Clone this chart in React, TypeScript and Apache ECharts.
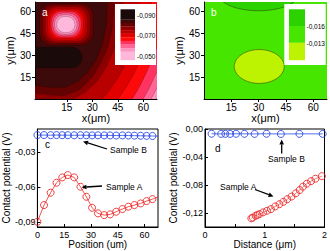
import React, { useEffect, useRef } from 'react';
import * as echarts from 'echarts';

const FONT = '"Liberation Sans", Arial, Helvetica, sans-serif';

// ---------- Panel a: contour map (V) ----------
const A_LEVEL_COLORS = ['#1a0a0a', '#3c0a0a', '#640202', '#8e0000', '#b80000', '#e00000', '#ff0a0a', '#ff3360', '#ff6696', '#ff94c0', '#ffb8dc'];
const A_LEGEND_LABELS = ['-0,090', '-0,070', '-0,050'];
const MAP_TICKS = [15, 30, 45, 60];
// contours toward the lower-right corner; level of the region beyond each contour
const A_BAND_LEVELS = [2, 3, 4, 5, 6, 7, 8, 9, 10];
const A_BANDS = [
  [[-8, 10], [5.1, 8], [13.9, 8], [21.6, 12.1], [27.5, 18.9], [32.2, 27.1], [35.7, 37.3], [38.1, 50.9], [39.2, 75]],
  [[-8, 4.6], [8.1, 2.5], [13.9, 2.5], [22.8, 6.6], [29.8, 14.8], [34.5, 23.7], [38.6, 33.9], [41.6, 47.5], [43.3, 75]],
  [[17, -3], [18.6, 0], [25.7, 4.6], [32.8, 12.1], [38.1, 21.6], [42.2, 32.5], [45.1, 44.1], [47.5, 57.7], [48.6, 75]],
  [[34.5, -3], [35.7, 0], [40.4, 6.6], [45.1, 14.8], [49.2, 23.7], [52.8, 33.9], [55.7, 46.1], [58.1, 75]],
  [[44, -3], [45.1, 0], [49.8, 8], [53.9, 16.2], [56.9, 23.7], [60.4, 33.9], [63.4, 47.5], [65.1, 75]],
  [[52.5, -3], [53.4, 0], [57.5, 8], [61, 16.2], [63.9, 23.7], [66.9, 32.5], [69.8, 40.7], [75, 50]],
  [[59, -3], [59.8, 0], [63.4, 7.3], [66.3, 14.8], [69.8, 22.3], [75, 30]],
  [[64, -3], [64.5, 0], [66.9, 5.2], [69.8, 10.7], [75, 18]],
  [[67, -3], [67.5, 0], [69.8, 3.9], [75, 10]],
];
// peak rings [xmin, xmax, ymin, ymax], levels 2..10
const A_RING_LEVELS = [2, 3, 4, 5, 6, 7, 8, 9, 10];
const A_RINGS = [
  [-1.0, 30.6, 37.0, 65.4],
  [0.8, 28.8, 38.2, 64.3],
  [2.3, 27.2, 39.2, 63.2],
  [3.6, 25.8, 40.3, 62.1],
  [4.8, 24.6, 41.4, 61.1],
  [5.8, 23.4, 42.4, 60.1],
  [6.8, 22.2, 43.4, 59.0],
  [7.8, 21.0, 44.4, 57.8],
  [9.0, 19.8, 45.5, 56.6],
];
// low region (level 0)
const A_LOW = [[-20, 24, 21.5, 35.5]];

// ---------- Panel b ----------
const B_LEVEL_COLORS = ['#2bd200', '#46e600', '#bdf200'];
const B_LEGEND_LABELS = ['-0,016', '-0,013'];
// [cx, cy, rx, ry, level]
const B_BLOBS = [
  [30, 72, 22, 11.5, 0],
  [30.3, 22.3, 13.7, 11.6, 2],
];

// ---------- Panel c ----------
const C_X = [0, 3.7, 7.4, 10.7, 13.9, 17.0, 20.6, 24.1, 27.4, 30.6, 33.9, 37.4, 40.7, 44.1, 47.6, 50.9, 54.3, 57.8, 61.1, 64.4, 67.6];
const C_A = [-0.0900, -0.0757, -0.0651, -0.0566, -0.0520, -0.0500, -0.0520, -0.0600, -0.0686, -0.0780, -0.0828, -0.0843, -0.0837, -0.0814, -0.0791, -0.0771, -0.0757, -0.0743, -0.0723, -0.0706, -0.0686];
const C_B = [-0.0157, -0.0157, -0.0158, -0.0157, -0.0158, -0.0158, -0.0159, -0.0158, -0.0159, -0.0160, -0.0159, -0.0160, -0.0160, -0.0161, -0.0160, -0.0161, -0.0162, -0.0163, -0.0164, -0.0165, -0.0166];
const C_Y_TICKS = [-0.09, -0.06, -0.03];
const C_X_TICKS = [0, 15, 30, 45, 60];

// ---------- Panel d ----------
const D_A_X = [0.775, 0.80, 0.848, 0.88, 0.913, 0.972, 1.038, 1.103, 1.175, 1.246, 1.311, 1.377, 1.448, 1.52, 1.585, 1.639, 1.705, 1.775, 1.848, 1.956];
const D_A_Y = [-0.1276, -0.1265, -0.1239, -0.1228, -0.1215, -0.1191, -0.1168, -0.1145, -0.1106, -0.1074, -0.1041, -0.1003, -0.0965, -0.0919, -0.0872, -0.0824, -0.0781, -0.0745, -0.0711, -0.0674];
const D_B_X = [0.11, 0.27, 0.34, 0.42, 0.52, 0.66, 0.83, 1.03, 1.27, 1.58, 1.97];
const D_B_Y = [-0.0068, -0.0070, -0.0069, -0.0070, -0.0068, -0.0069, -0.0070, -0.0068, -0.0071, -0.0069, -0.0070];
const D_Y_TICKS = [-0.12, -0.08, -0.04, 0];

const RED = '#ee2a2a';
const BLUE = '#2a4ae8';

const comma2 = (v: number) => (Math.abs(v) < 1e-9 ? '0,00' : v.toFixed(2).replace('.', ','));

function arrow(x1: number, y1: number, x2: number, y2: number) {
  const ang = Math.atan2(y2 - y1, x2 - x1);
  const L = 5, W = 2.3;
  const bx = x2 - L * Math.cos(ang), by = y2 - L * Math.sin(ang);
  const px = -Math.sin(ang) * W, py = Math.cos(ang) * W;
  return [
    { type: 'line', shape: { x1, y1, x2: bx, y2: by }, style: { stroke: '#000', lineWidth: 1.3 }, silent: true },
    { type: 'polygon', shape: { points: [[x2, y2], [bx + px, by + py], [bx - px, by - py]] }, style: { fill: '#000' }, silent: true },
  ];
}

function txt(x: number, y: number, text: string, size: number, fill = '#000', align = 'left') {
  return { type: 'text', x, y, silent: true, style: { text, fill, font: `${size}px ${FONT}`, align, verticalAlign: 'middle' } };
}

function mapAxisX(gridIndex: number, min: number, max: number) {
  return {
    type: 'value', gridIndex, min, max,
    name: 'x(μm)', nameLocation: 'middle', nameGap: 11,
    nameTextStyle: { fontSize: 11, fontFamily: FONT, color: '#000' },
    axisLine: { show: true, onZero: false, lineStyle: { color: '#000', width: 1 } },
    axisTick: { show: true, inside: false, length: 3, customValues: MAP_TICKS, lineStyle: { color: '#000' } },
    axisLabel: { customValues: MAP_TICKS, fontSize: 10, margin: 3, color: '#000', fontFamily: FONT },
    splitLine: { show: false },
  };
}
function mapAxisY(gridIndex: number, gap: number) {
  return {
    type: 'value', gridIndex, min: 0, max: 66.5,
    name: 'y(μm)', nameLocation: 'middle', nameGap: gap,
    nameTextStyle: { fontSize: 11, fontFamily: FONT, color: '#000' },
    axisLine: { show: true, onZero: false, lineStyle: { color: '#000', width: 1 } },
    axisTick: { show: true, inside: false, length: 3, customValues: MAP_TICKS, lineStyle: { color: '#000' } },
    axisLabel: { customValues: MAP_TICKS, fontSize: 10, margin: 4, color: '#000', fontFamily: FONT },
    splitLine: { show: false },
  };
}

export default function App() {
  const ref = useRef<HTMLDivElement>(null);
  useEffect(() => {
    if (!ref.current) return;
    const chart = echarts.init(ref.current, null, { renderer: 'svg', width: 330, height: 251 });

    const lineStroke = { stroke: 'rgba(0,0,0,0.45)', lineWidth: 0.45 };

    // legend a
    const aBar: any[] = [];
    const barTop = 9.3, barX = 120.5, barW = 14.5;
    const heights = [10, 3.6, 3.6, 3.6, 3.6, 3.6, 3.6, 3.6, 3.6, 3.6, 8.3];
    let yy = barTop;
    A_LEVEL_COLORS.forEach((c, i) => {
      aBar.push({ type: 'rect', shape: { x: barX, y: yy, width: barW, height: heights[i] + 0.2 }, style: { fill: c }, silent: true });
      yy += heights[i];
    });
    const aLabY = [15, 35, 56];

    const bBar: any[] = [];
    const bH = [16.7, 16.7, 17.3];
    let yb = 9.3;
    B_LEVEL_COLORS.forEach((c, i) => {
      bBar.push({ type: 'rect', shape: { x: 289, y: yb, width: 16, height: bH[i] + 0.2 }, style: { fill: c }, silent: true });
      yb += bH[i];
    });

    const graphics: any[] = [
      { type: 'rect', shape: { x: 115, y: 4, width: 41, height: 61 }, style: { fill: '#fff' }, silent: true, z: 50 },
      ...aBar.map((e) => ({ ...e, z: 51 })),
      ...A_LEGEND_LABELS.map((t, i) => ({ ...txt(137, aLabY[i], t, 6.5), z: 52 })),
      { type: 'rect', shape: { x: 284.3, y: 4, width: 41.4, height: 61 }, style: { fill: '#fff' }, silent: true, z: 50 },
      ...bBar.map((e) => ({ ...e, z: 51 })),
      ...B_LEGEND_LABELS.map((t, i) => ({ ...txt(306.5, [26.7, 43.3][i], t, 6.5), z: 52 })),
      { ...txt(42, 12, 'a', 10, '#fff'), z: 52 },
      { ...txt(211, 12.5, 'b', 10, '#fff'), z: 52 },
      { ...txt(45, 144, 'c', 10), z: 52 },
      { ...txt(215, 148, 'd', 10), z: 52 },
      { ...txt(110, 149.5, 'Sample B', 8.5), z: 52 },
      ...arrow(107, 149, 83, 141.5).map((e) => ({ ...e, z: 52 })),
      { ...txt(106, 187, 'Sample A', 8.5), z: 52 },
      ...arrow(102, 186, 81.5, 187.3).map((e) => ({ ...e, z: 52 })),
      { ...txt(268, 158.5, 'Sample B', 8.5), z: 52 },
      ...arrow(281.7, 153.5, 281.7, 139.5).map((e) => ({ ...e, z: 52 })),
      { ...txt(220, 186.7, 'Sample A', 8.5), z: 52 },
      ...arrow(255, 189.5, 273.5, 196.5).map((e) => ({ ...e, z: 52 })),
    ];

    const plotAxisLine = { show: true, onZero: false, lineStyle: { color: '#000', width: 1 } };
    const titleStyle = { fontSize: 10, fontFamily: FONT, color: '#000' };
    const labStyle = { fontSize: 9, color: '#000', fontFamily: FONT };

    const option: any = {
      animation: false,
      backgroundColor: '#fff',
      grid: [
        { left: 35, top: 2, width: 122, height: 97, show: true, backgroundColor: A_LEVEL_COLORS[1], borderWidth: 0 },
        { left: 204, top: 2, width: 123, height: 97, show: true, backgroundColor: B_LEVEL_COLORS[1], borderWidth: 0 },
        { left: 35, top: 129, width: 123, height: 98, show: true, borderColor: '#000', borderWidth: 1 },
        { left: 205, top: 129, width: 122, height: 98, show: true, borderColor: '#000', borderWidth: 1 },
      ],
      xAxis: [
        mapAxisX(0, -3.7, 68),
        mapAxisX(1, 0, 67.5),
        {
          type: 'value', gridIndex: 2, min: 0, max: 67.5,
          name: 'Position (um)', nameLocation: 'middle', nameGap: 11, nameTextStyle: titleStyle,
          axisLine: plotAxisLine,
          axisTick: { show: true, inside: true, length: 3, customValues: C_X_TICKS, lineStyle: { color: '#000' } },
          axisLabel: { customValues: C_X_TICKS, margin: 3, ...labStyle },
          splitLine: { show: false },
        },
        {
          type: 'value', gridIndex: 3, min: 0, max: 2, interval: 0.5,
          name: 'Distance (μm)', nameLocation: 'middle', nameGap: 11, nameTextStyle: titleStyle,
          axisLine: plotAxisLine,
          axisTick: { show: true, inside: true, length: 3, lineStyle: { color: '#000' } },
          axisLabel: { margin: 3, ...labStyle, formatter: (v: number) => (Math.abs(v - Math.round(v)) < 1e-9 ? String(Math.round(v)) : '') },
          splitLine: { show: false },
        },
      ],
      yAxis: [
        mapAxisY(0, 18.5),
        mapAxisY(1, 17.5),
        {
          type: 'value', gridIndex: 2, min: -0.0945, max: -0.0105,
          name: 'Contact potential (V)', nameLocation: 'middle', nameGap: 23, nameTextStyle: titleStyle,
          axisLine: plotAxisLine,
          axisTick: { show: true, inside: true, length: 3, customValues: C_Y_TICKS, lineStyle: { color: '#000' } },
          axisLabel: { customValues: C_Y_TICKS, margin: 2, ...labStyle, formatter: comma2 },
          splitLine: { show: false },
        },
        {
          type: 'value', gridIndex: 3, min: -0.14, max: 0,
          name: 'Contact potential (V)', nameLocation: 'middle', nameGap: 25, nameTextStyle: titleStyle,
          axisLine: plotAxisLine,
          axisTick: { show: true, inside: true, length: 3, customValues: D_Y_TICKS, lineStyle: { color: '#000' } },
          axisLabel: { customValues: D_Y_TICKS, margin: 2, ...labStyle, formatter: comma2 },
          splitLine: { show: false },
        },
      ],
      graphic: graphics,
      series: [
        {
          type: 'custom', xAxisIndex: 0, yAxisIndex: 0, clip: true, z: 2,
          data: A_BANDS.map((_, i) => [i, i]),
          renderItem: (params: any, api: any) => {
            const i = api.value(0);
            const pts = A_BANDS[i].map((p) => api.coord(p));
            pts.push(api.coord([200, 200]), api.coord([200, -200]), api.coord([-200, -200]));
            return { type: 'polygon', z2: i, shape: { points: pts }, style: { fill: A_LEVEL_COLORS[A_BAND_LEVELS[i]], ...lineStroke } };
          },
        },
        {
          type: 'custom', xAxisIndex: 0, yAxisIndex: 0, clip: true, z: 3,
          data: A_LOW.map((_, i) => [i, i]),
          renderItem: (params: any, api: any) => {
            const r = A_LOW[api.value(0)];
            const p1 = api.coord([r[0], r[3]]);
            const p2 = api.coord([r[1], r[2]]);
            const h = p2[1] - p1[1];
            return { type: 'rect', shape: { x: p1[0], y: p1[1], width: p2[0] - p1[0], height: h, r: h / 2 }, style: { fill: A_LEVEL_COLORS[0], ...lineStroke } };
          },
        },
        {
          type: 'custom', xAxisIndex: 0, yAxisIndex: 0, clip: true, z: 4,
          data: A_RINGS.map((_, i) => [i, i]),
          renderItem: (params: any, api: any) => {
            const i = api.value(0);
            const r = A_RINGS[i];
            const p1 = api.coord([r[0], r[3]]);
            const p2 = api.coord([r[1], r[2]]);
            const w = p2[0] - p1[0], h = p2[1] - p1[1];
            const k = 0.3 + 0.2 * (i / (A_RINGS.length - 1));
            return { type: 'rect', z2: i, shape: { x: p1[0], y: p1[1], width: w, height: h, r: Math.min(w, h) * k }, style: { fill: A_LEVEL_COLORS[A_RING_LEVELS[i]], ...lineStroke } };
          },
        },
        {
          type: 'custom', xAxisIndex: 1, yAxisIndex: 1, clip: true, z: 2,
          data: B_BLOBS.map((_, i) => [i, i]),
          renderItem: (params: any, api: any) => {
            const b = B_BLOBS[api.value(0)];
            const c = api.coord([b[0], b[1]]);
            const s = api.size([b[2], b[3]]);
            return { type: 'ellipse', shape: { cx: c[0], cy: c[1], rx: s[0], ry: s[1] }, style: { fill: B_LEVEL_COLORS[b[4]], stroke: 'rgba(40,50,0,0.85)', lineWidth: 0.6 } };
          },
        },
        {
          type: 'line', xAxisIndex: 2, yAxisIndex: 2, z: 5,
          data: C_X.map((x, i) => [x, C_B[i]]),
          symbol: 'circle', symbolSize: 7,
          itemStyle: { color: 'rgba(0,0,0,0)', borderColor: BLUE, borderWidth: 0.9 },
          lineStyle: { color: BLUE, width: 0.8 },
        },
        {
          type: 'line', xAxisIndex: 2, yAxisIndex: 2, z: 5,
          data: C_X.map((x, i) => [x, C_A[i]]),
          symbol: 'circle', symbolSize: 7,
          itemStyle: { color: 'rgba(0,0,0,0)', borderColor: RED, borderWidth: 0.9 },
          lineStyle: { color: RED, width: 0.8 },
        },
        {
          type: 'line', xAxisIndex: 3, yAxisIndex: 3, z: 5,
          data: D_B_X.map((x, i) => [x, D_B_Y[i]]),
          symbol: 'circle', symbolSize: 7,
          itemStyle: { color: 'rgba(0,0,0,0)', borderColor: BLUE, borderWidth: 0.9 },
          lineStyle: { color: BLUE, width: 0.8 },
        },
        {
          type: 'line', xAxisIndex: 3, yAxisIndex: 3, z: 5,
          data: D_A_X.map((x, i) => [x, D_A_Y[i]]),
          symbol: 'circle', symbolSize: 7,
          itemStyle: { color: 'rgba(0,0,0,0)', borderColor: RED, borderWidth: 0.9 },
          lineStyle: { color: RED, width: 0.6 },
        },
      ],
    };
    chart.setOption(option);
    return () => chart.dispose();
  }, []);
  return <div ref={ref} style={{ position: 'absolute', left: 0, top: 0, width: 330, height: 251, background: '#fff' }} />;
}
